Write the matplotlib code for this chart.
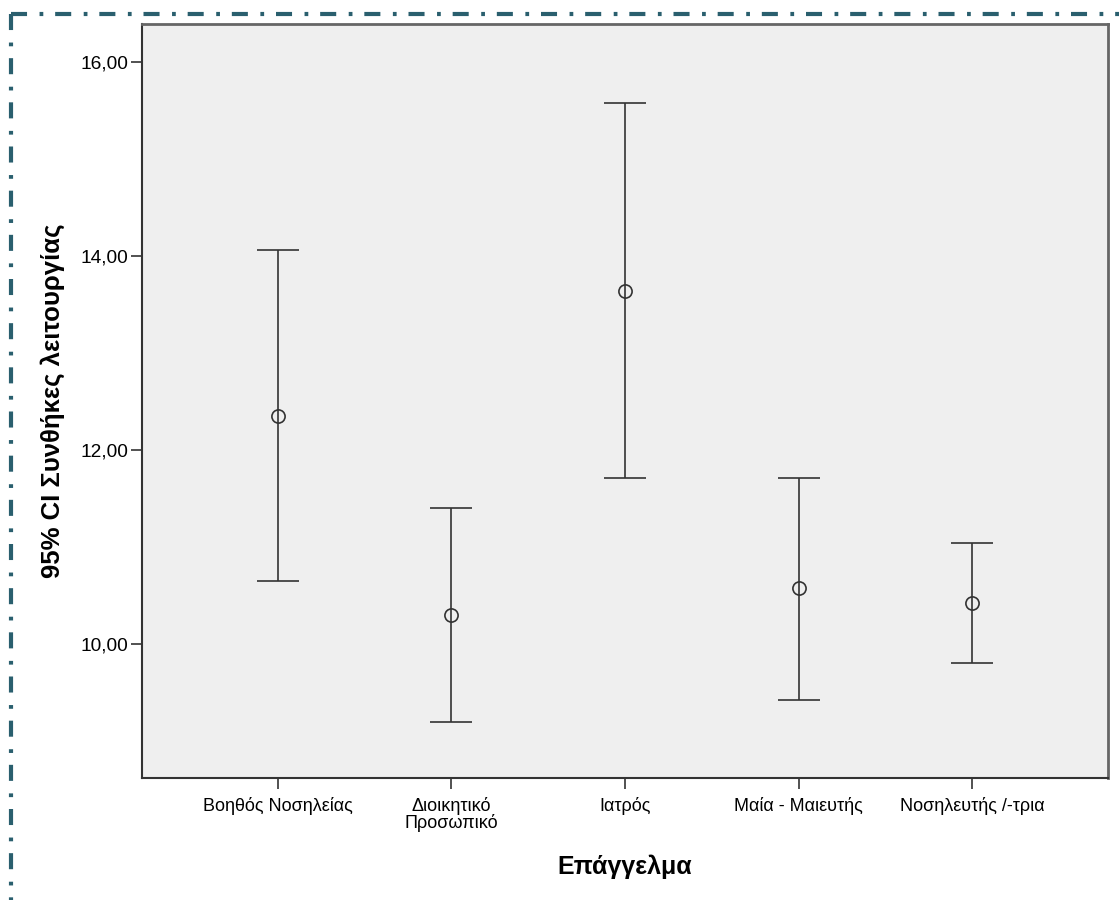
import matplotlib.pyplot as plt
from matplotlib.lines import Line2D

# Error bar data (95% CI)
categories = ["Βοηθός Νοσηλείας", "Διοικητικό\nΠροσωπικό", "Ιατρός",
              "Μαία - Μαιευτής", "Νοσηλευτής /-τρια"]
means = [12.35, 10.30, 13.64, 10.58, 10.42]
upper = [14.06, 11.40, 15.58, 11.71, 11.04]
lower = [10.65, 9.20, 11.71, 9.42, 9.80]
yticks = [10, 12, 14, 16]
ytick_labels = ["10,00", "12,00", "14,00", "16,00"]

plt.rcParams['font.family'] = ['Liberation Sans', 'DejaVu Sans']

W, H = 1119, 900
fig = plt.figure(figsize=(W / 100, H / 100), dpi=100)
ax = fig.add_axes([142 / W, 1 - 778 / H, (1108 - 142) / W, (778 - 24) / H])
ax.set_facecolor("#efefef")

x = list(range(len(categories)))
err_lo = [m - l for m, l in zip(means, lower)]
err_hi = [u - m for m, u in zip(means, upper)]
ax.errorbar(x, means, yerr=[err_lo, err_hi], fmt="o", mfc="none", mec="#333333",
            ms=9.5, mew=1.2, ecolor="#333333", elinewidth=1.2, capsize=15, capthick=1.2)

ax.set_xlim(-0.78, 4.78)
ax.set_ylim(8.62, 16.39)
ax.set_xticks(x)
ax.set_xticklabels(categories, fontsize=13, linespacing=0.9)
ax.set_yticks(yticks)
ax.set_yticklabels(ytick_labels, fontsize=13.8)
ax.tick_params(direction="out", length=8, width=1.2, color="#333333")
ax.tick_params(axis="y", pad=2)
ax.tick_params(axis="x", pad=6)

for s in ["left", "bottom"]:
    ax.spines[s].set_color("#333333")
    ax.spines[s].set_linewidth(1.5)
for s in ["top", "right"]:
    ax.spines[s].set_color("#666666")
    ax.spines[s].set_linewidth(2)

ax.set_ylabel("95% CI Συνθήκες λειτουργίας", fontsize=18.5, fontweight="bold", labelpad=11)
ax.set_xlabel("Επάγγελμα", fontsize=18, fontweight="bold", labelpad=16)

# dash-dot frame around the chart (top and left edges visible)
border = dict(color="#2a5f6e", lw=3, dashes=(3.85, 3.0, 0.9, 2.85),
              dash_capstyle="butt", transform=fig.transFigure)
fig.add_artist(Line2D([11 / W, 1.0], [1 - 14 / H, 1 - 14 / H], **border))
fig.add_artist(Line2D([11 / W, 11 / W], [1 - 14 / H, 0.0], **border))

fig.savefig("out.png", dpi=100)
